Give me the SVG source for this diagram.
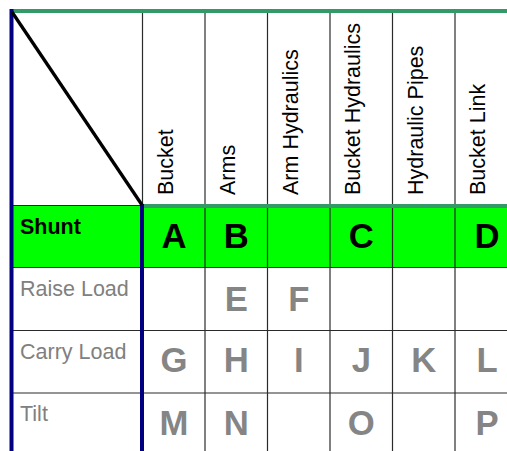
<svg xmlns="http://www.w3.org/2000/svg" width="507" height="451" viewBox="0 0 507 451">
<style>
text{font-family:"Liberation Sans",Arial,sans-serif}
.hdr{font-size:21.5px;fill:#000}
.lbl{font-size:21.5px;fill:#808080}
.shunt{font-size:21.5px;font-weight:bold;fill:#000}
.big{font-size:34.7px;font-weight:bold;text-anchor:middle;fill:#000}
.gry{font-size:34.7px;font-weight:bold;text-anchor:middle;fill:#858585}
.grid{stroke:#2a2a2a;stroke-width:1.2;fill:none}
</style>
<rect width="507" height="451" fill="#fff"/>
<g id="shunt-row-bg">
<rect x="12" y="205" width="495" height="62" fill="#00ff00"/>
</g>
<g id="connectors">
<g class="grid">
<line x1="142.5" y1="12" x2="142.5" y2="451"/>
<line x1="205" y1="12" x2="205" y2="451"/>
<line x1="267.5" y1="12" x2="267.5" y2="451"/>
<line x1="330" y1="12" x2="330" y2="451"/>
<line x1="392.5" y1="12" x2="392.5" y2="451"/>
<line x1="455" y1="12" x2="455" y2="451"/>
<line x1="12" y1="205.5" x2="142" y2="205.5"/>
<line x1="12" y1="267.5" x2="507" y2="267.5"/>
<line x1="12" y1="330.5" x2="507" y2="330.5"/>
<line x1="12" y1="393" x2="507" y2="393"/>
</g>
<line x1="11" y1="11" x2="507" y2="11" stroke="#339966" stroke-width="4"/>
<line x1="142" y1="206" x2="507" y2="206" stroke="#339966" stroke-width="4"/>
<line x1="11.5" y1="9" x2="11.5" y2="451" stroke="#000080" stroke-width="4"/>
<line x1="142" y1="204" x2="142" y2="451" stroke="#000080" stroke-width="4"/>
<line x1="12" y1="12" x2="142" y2="205" stroke="#000" stroke-width="3.3"/>
</g>
<g id="col-bucket"><text class="hdr" transform="translate(172.5,195) rotate(-90)">Bucket</text></g>
<g id="col-arms"><text class="hdr" transform="translate(235,195) rotate(-90)">Arms</text></g>
<g id="col-arm-hydraulics"><text class="hdr" transform="translate(297.5,195) rotate(-90)">Arm Hydraulics</text></g>
<g id="col-bucket-hydraulics"><text class="hdr" transform="translate(360,195) rotate(-90)">Bucket Hydraulics</text></g>
<g id="col-hydraulic-pipes"><text class="hdr" transform="translate(422.5,195) rotate(-90)">Hydraulic Pipes</text></g>
<g id="col-bucket-link"><text class="hdr" transform="translate(485,195) rotate(-90)">Bucket Link</text></g>
<g id="row-shunt"><text class="shunt" x="20" y="234">Shunt</text></g>
<g id="row-raise-load"><text class="lbl" x="20" y="296">Raise Load</text></g>
<g id="row-carry-load"><text class="lbl" x="20" y="359">Carry Load</text></g>
<g id="row-tilt"><text class="lbl" x="20" y="421">Tilt</text></g>
<g id="cells-shunt">
<text class="big" x="174" y="247.5">A</text>
<text class="big" x="236.3" y="247.5">B</text>
<text class="big" x="361.3" y="247.5">C</text>
<text class="big" x="487" y="247.5">D</text>
</g>
<g id="cells-raise-load">
<text class="gry" x="236.3" y="310.5">E</text>
<text class="gry" x="298.8" y="310.5">F</text>
</g>
<g id="cells-carry-load">
<text class="gry" x="174" y="372">G</text>
<text class="gry" x="236.3" y="372">H</text>
<text class="gry" x="298.8" y="372">I</text>
<text class="gry" x="361.3" y="372">J</text>
<text class="gry" x="423.8" y="372">K</text>
<text class="gry" x="487" y="372">L</text>
</g>
<g id="cells-tilt">
<text class="gry" x="174" y="435">M</text>
<text class="gry" x="236.3" y="435">N</text>
<text class="gry" x="361.3" y="435">O</text>
<text class="gry" x="487" y="435">P</text>
</g>
</svg>
